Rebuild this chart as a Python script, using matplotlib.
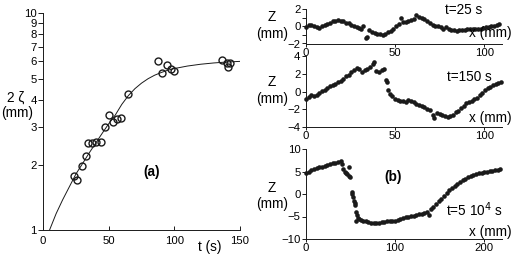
import matplotlib
matplotlib.use("Agg")
import matplotlib.pyplot as plt
from matplotlib.ticker import FixedLocator, NullLocator

plt.rcParams['font.family'] = ['Liberation Sans', 'DejaVu Sans']

# ---------------- data: panel (a) ----------------
a_t = [23.75, 25.75, 29.5, 32.75, 34.25, 37.5, 40.5, 44.5, 47.5, 50.5, 53.25, 56.5, 59.5,
       65.0, 87.75, 90.75, 94.75, 97.5, 99.5, 136.3, 139.9, 140.6, 142.6]
a_amp = [1.78, 1.70, 1.98, 2.20, 2.51, 2.51, 2.56, 2.54, 3.00, 3.40, 3.16, 3.24, 3.29,
         4.23, 6.05, 5.32, 5.75, 5.53, 5.42, 6.09, 5.88, 5.63, 5.92]
fit_t = [5, 10, 15, 20, 25, 30, 35, 40, 45, 50, 55, 60, 65, 70, 75, 80, 85, 90, 95, 100,
         110, 120, 130, 140, 150]
fit_amp = [1.00, 1.19, 1.38, 1.58, 1.81, 2.02, 2.26, 2.51, 2.79, 3.09, 3.39, 3.80, 4.17,
           4.49, 4.76, 4.99, 5.18, 5.33, 5.46, 5.56, 5.71, 5.82, 5.90, 5.96, 6.00]
a_yticks = [1, 2, 3, 4, 5, 6, 7, 8, 9, 10]
a_xticks = [0, 50, 100, 150]

# ---------------- data: panel (b) ----------------
top_x = [0, 1.5, 3, 4.5, 6, 7.5, 9, 10.5, 12, 13.5, 15, 16.5, 18, 19.5, 21, 22.5, 24, 25.5,
         27, 28.5, 30, 31, 32, 33.5, 34.5, 35.5, 37, 38.5, 40, 41.5, 43, 44.5, 46, 47.5, 49,
         50.5, 52, 53.3, 54.5, 56, 57.5, 59, 60.5, 62, 63.5, 65, 66.5, 68, 69.5, 71, 72.5,
         74, 75.5, 77, 78.5, 80, 81.5, 83, 84.5, 86, 87.5, 89, 90.5, 92, 93.5, 95, 96.5, 98,
         99.5, 101, 102.5, 104, 105.5, 107, 108.5]
top_z = [-0.1, 0.2, 0.15, 0.1, -0.05, -0.15, 0.0, 0.15, 0.3, 0.45, 0.6, 0.65, 0.72, 0.68,
         0.6, 0.45, 0.35, 0.15, 0.1, -0.05, -0.2, -0.3, 0.0, -1.3, -1.2, -0.4, -0.6, -0.75,
         -0.85, -0.9, -1.0, -0.85, -0.7, -0.5, -0.3, 0.05, 0.3, 1.0, 0.5, 0.55, 0.65, 0.7,
         0.9, 1.3, 1.1, 1.0, 0.85, 0.6, 0.35, 0.2, 0.1, 0.05, -0.05, -0.25, -0.1, -0.3,
         -0.4, -0.45, -0.5, -0.45, -0.4, -0.38, -0.35, -0.35, -0.33, -0.3, -0.28, -0.25,
         -0.15, -0.1, -0.05, 0.05, 0.1, 0.2, 0.25]

mid_x = [0, 1.5, 3, 4.5, 6, 7.5, 9, 10.5, 12, 13.5, 15, 16.5, 18, 19.5, 21, 22.5, 24, 25.5,
         27, 28.5, 30, 31.5, 33, 34.5, 36, 37.5, 38.2, 39.5, 41, 42.5, 43.5, 44.8, 45.7,
         46.3, 47.2, 48.5, 50, 51.5, 53, 54.5, 56, 57.5, 59, 60.5, 62, 63.5, 65, 66.5, 68,
         69.5, 71, 72, 73.5, 75, 76.5, 78, 79.5, 81, 82.5, 84, 85.5, 87, 88.5, 90, 91.5, 93,
         94.5, 96, 97.5, 99, 100.5, 102, 103.5, 105, 106.5, 108, 109.5]
mid_z = [-0.8, -0.6, -0.35, -0.55, -0.45, -0.2, 0.05, 0.2, 0.45, 0.6, 0.75, 0.9, 1.05, 1.2,
         1.45, 1.7, 1.85, 2.15, 2.4, 2.6, 2.5, 2.2, 2.4, 2.55, 2.8, 3.1, 3.35, 2.35, 2.25,
         2.4, 2.5, 1.3, 1.05, 0.15, -0.25, -0.55, -0.8, -0.95, -1.05, -1.1, -1.15, -1.0,
         -1.1, -1.2, -1.4, -1.5, -1.65, -1.8, -1.95, -2.1, -2.6, -2.95, -2.45, -2.55, -2.65,
         -2.75, -2.85, -2.8, -2.6, -2.35, -2.15, -1.9, -1.6, -1.35, -1.2, -1.05, -0.9, -0.7,
         -0.45, -0.15, 0.15, 0.35, 0.5, 0.7, 0.85, 0.95, 1.05]

bot_x = [0, 3, 6, 9, 12, 15, 18, 21, 24, 27, 30, 33, 36, 39, 40.5, 42, 43.5, 45, 46.5, 48,
         48.7, 49.5, 51.3, 52, 53, 54, 54.5, 55, 56, 57.5, 56.5, 58.5, 60, 62, 64, 67, 70,
         73, 76, 79, 82, 85, 88, 91, 94, 97, 100, 103, 106, 109, 112, 115, 118, 121, 124,
         127, 130, 133, 136, 138.5, 140, 143, 146, 149, 152, 155, 158, 161, 164, 167, 170,
         173, 176, 179, 182, 185, 188, 191, 194, 197, 200, 203, 206, 209, 212, 215, 218]
bot_z = [4.7, 5.0, 5.3, 5.5, 5.7, 5.9, 6.1, 6.3, 6.5, 6.65, 6.8, 6.95, 7.1, 7.35, 6.6, 5.6,
         5.0, 4.7, 4.4, 4.0, 6.0, 3.7, 0.5, 0.0, -0.6, -1.5, -2.0, -2.4, -3.9, -4.7, -6.0,
         -5.3, -5.5, -5.8, -5.9, -6.1, -6.2, -6.4, -6.5, -6.4, -6.4, -6.3, -6.2, -6.1, -6.1,
         -6.0, -5.9, -5.7, -5.5, -5.4, -5.2, -5.0, -4.9, -4.8, -4.6, -4.5, -4.4, -4.2, -4.0,
         -4.7, -3.4, -2.8, -2.2, -1.6, -1.0, -0.4, 0.2, 0.8, 1.3, 1.8, 2.3, 2.7, 3.1, 3.4,
         3.7, 3.95, 4.2, 4.4, 4.6, 4.75, 4.9, 5.0, 5.1, 5.2, 5.3, 5.4, 5.5]

b_panels = [
    dict(x=top_x, z=top_z, xlim=(0, 110), ylim=(-2, 2), yticks=[-2, 0, 2],
         yminor=[-1, 1], xticks=[0, 50, 100], label="t=25 s"),
    dict(x=mid_x, z=mid_z, xlim=(0, 110), ylim=(-4, 4), yticks=[-4, -2, 0, 2, 4],
         yminor=[], xticks=[0, 50, 100], label="t=150 s"),
    dict(x=bot_x, z=bot_z, xlim=(0, 220), ylim=(-10, 10), yticks=[-10, -5, 0, 5, 10],
         yminor=[], xticks=[0, 100, 200], label=r"t=5 10$^4$ s"),
]

# ---------------- figure ----------------
W, H = 513, 258
fig = plt.figure(figsize=(W / 100, H / 100), dpi=100)
ink = '#1a1a1a'
TICK_FS = 8.2
LAB_FS = 9.8


def frac(l, t, r, b):
    return [l / W, 1 - b / H, (r - l) / W, (b - t) / H]


def style(ax):
    for s in ('top', 'right'):
        ax.spines[s].set_visible(False)
    for s in ('left', 'bottom'):
        ax.spines[s].set_linewidth(0.7)
        ax.spines[s].set_color(ink)


# panel (a)
axa = fig.add_axes(frac(43, 13.3, 240, 230))
style(axa)
axa.set_yscale('log')
axa.plot(fit_t, fit_amp, '-', color=ink, lw=0.7)
axa.plot(a_t, a_amp, 'o', mfc='none', mec=ink, ms=5.0, mew=1.0)
axa.set_xlim(0, 150)
axa.set_ylim(1, 10)
axa.yaxis.set_major_locator(FixedLocator(a_yticks))
axa.yaxis.set_minor_locator(NullLocator())
axa.set_yticklabels([str(v) for v in a_yticks])
axa.set_xticks(a_xticks)
axa.set_xticklabels([str(v) for v in a_xticks])
axa.tick_params(axis='y', direction='out', length=3.5, width=0.7, pad=1,
                labelsize=TICK_FS, color=ink)
axa.tick_params(axis='x', direction='in', length=3, width=0.7, pad=4,
                labelsize=TICK_FS, color=ink)
fig.text(16 / W, 1 - 98 / H, "2 ζ", ha='center', va='center', fontsize=LAB_FS)
fig.text(17 / W, 1 - 113 / H, "(mm)", ha='center', va='center', fontsize=LAB_FS)
fig.text(210 / W, 1 - 247 / H, "t (s)", ha='center', va='center', fontsize=LAB_FS)
fig.text(152 / W, 1 - 172 / H, "(a)", ha='center', va='center', fontsize=LAB_FS,
         fontweight='bold')

# panel (b)
b_boxes = [(306, 9.3, 502, 43.5), (306, 56, 502, 127), (306, 149, 502, 239)]
zlab_y = [(17, 34), (82, 99), (188, 204)]
tlab_pos = [(464, 10), (469, 77), (474, 210)]
xlab_y = [33, 118, 232]
for p, box, zl, tp, xl in zip(b_panels, b_boxes, zlab_y, tlab_pos, xlab_y):
    ax = fig.add_axes(frac(*box))
    style(ax)
    ax.plot(p['x'], p['z'], 'o', color=ink, ms=3.3, mew=0, clip_on=False)
    ax.set_xlim(*p['xlim'])
    ax.set_ylim(*p['ylim'])
    ax.set_yticks(p['yticks'])
    ax.set_yticks(p['yminor'], minor=True)
    ax.set_xticks(p['xticks'])
    ax.tick_params(axis='y', which='both', direction='out', length=3, width=0.7,
                   pad=1, labelsize=TICK_FS, color=ink)
    ax.tick_params(axis='x', direction='out', length=2.5, width=0.7, pad=0.5,
                   labelsize=TICK_FS, color=ink)
    fig.text(272 / W, 1 - zl[0] / H, "Z", ha='center', va='center', fontsize=LAB_FS)
    fig.text(272 / W, 1 - zl[1] / H, "(mm)", ha='center', va='center', fontsize=LAB_FS)
    fig.text(tp[0] / W, 1 - tp[1] / H, p['label'], ha='center', va='center',
             fontsize=LAB_FS)
    fig.text(490 / W, 1 - xl / H, "x (mm)", ha='center', va='center', fontsize=LAB_FS)

fig.text(393 / W, 1 - 177 / H, "(b)", ha='center', va='center', fontsize=LAB_FS,
         fontweight='bold')

fig.savefig("out.png", dpi=100)
